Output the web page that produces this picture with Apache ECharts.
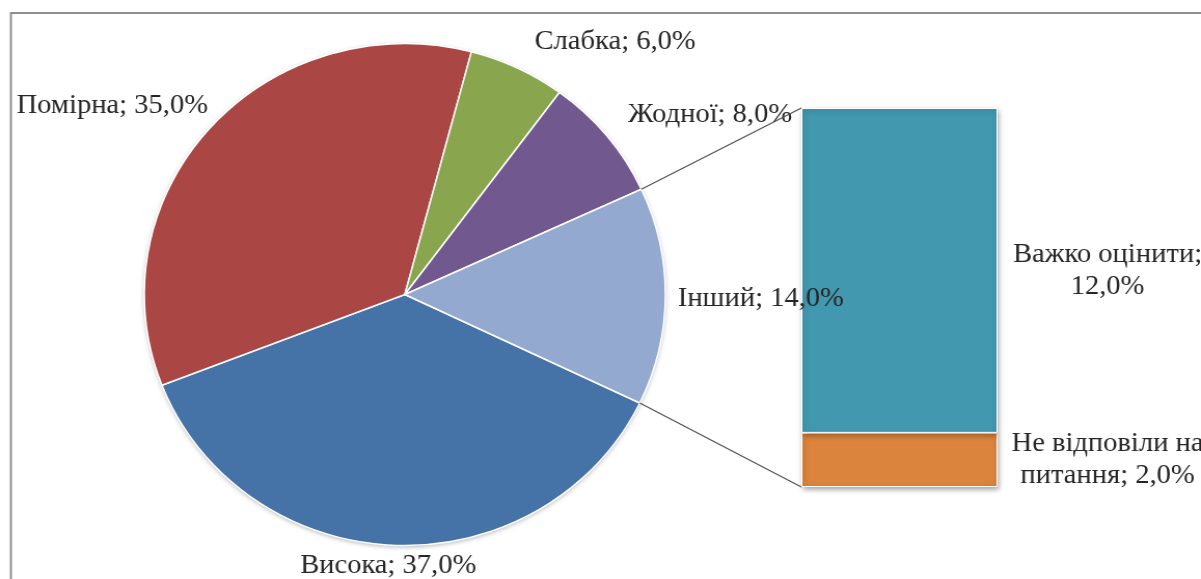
<!DOCTYPE html>
<html>
<head>
<meta charset="utf-8">
<script src="https://cdn.jsdelivr.net/npm/echarts@6/dist/echarts.min.js"></script>
<style>
  html, body { margin: 0; padding: 0; background: #fff; overflow: hidden; width: 1201px; height: 579px; }
  /* the chart is drawn slightly narrower and stretched horizontally, so the pie is a little wider than tall */
  #chart { width: 1157px; height: 579px; transform: scaleX(1.038); transform-origin: 0 0; }
</style>
</head>
<body>
<div id="chart"></div>
<script>
// main pie categories (share of respondents, %)
const mainNames = ['Висока', 'Помірна', 'Слабка', 'Жодної'];
const mainValues = [37, 35, 6, 8];

// the "other" slice, broken down in the side bar
const otherName = 'Інший';
const otherNames = ['Важко оцінити', 'Не відповіли на питання'];
const otherValues = [12, 2];

// colours
const mainColors = ['#4572A7', '#AA4643', '#89A54E', '#71588F'];
const otherSliceColor = '#93A9CF';
const otherColors = ['#4198AF', '#DB843D'];

// layout (chart coordinates)
const PIE_CX = 390, PIE_CY = 294.5, PIE_R = 251;
const START_ANGLE = -25.6;
const BAR = { left: 772, top: 108, width: 189, height: 379 };
const FONT = '"Liberation Serif", "Times New Roman", serif';
const FONT_SIZE = 27.5;
const TEXT_COLOR = '#262626';

// label anchors of the pie slices
const pieLabelPos = {
  'Помірна': { x: 16, y: 106, align: 'left' },
  'Слабка': { x: 515, y: 42, align: 'left' },
  'Жодної': { x: 605, y: 115, align: 'left' },
  'Інший': { x: 653, y: 299, align: 'left' },
  'Висока': { x: 374, y: 566, align: 'center' }
};

const fmt = v => v.toFixed(1).replace('.', ',') + '%';

// simple word wrap for the bar labels
function wrap(text, maxChars) {
  const words = text.split(' ');
  const lines = [];
  let cur = '';
  words.forEach(w => {
    const next = cur ? cur + ' ' + w : w;
    if (next.length > maxChars && cur) { lines.push(cur); cur = w; }
    else cur = next;
  });
  if (cur) lines.push(cur);
  return lines.join('\n');
}

const otherTotal = otherValues.reduce((a, b) => a + b, 0);
const pieData = mainNames.map((n, i) => ({ name: n, value: mainValues[i], itemStyle: { color: mainColors[i] } }));
pieData.push({ name: otherName, value: otherTotal, itemStyle: { color: otherSliceColor } });
const grandTotal = pieData.reduce((a, d) => a + d.value, 0);

const labelStyle = { fontFamily: FONT, fontSize: FONT_SIZE, color: TEXT_COLOR };

// stacked bar: first series sits at the bottom, so add the breakdown in reverse
const barSeries = [];
for (let i = otherNames.length - 1; i >= 0; i--) {
  barSeries.push({
    type: 'bar',
    name: otherNames[i],
    stack: 'other',
    barWidth: '100%',
    z: 2 + (otherNames.length - 1 - i),
    data: [otherValues[i]],
    itemStyle: {
      color: otherColors[i],
      borderColor: '#ffffff',
      borderWidth: 1,
      shadowBlur: 5,
      shadowColor: 'rgba(0,0,0,0.35)',
      shadowOffsetX: 1,
      shadowOffsetY: 2
    },
    label: Object.assign({
      show: true,
      position: 'right',
      lineHeight: 32,
      align: 'center',
      formatter: p => wrap(p.seriesName + '; ' + fmt(p.value), 15)
    }, labelStyle),
    labelLayout: params => ({
      x: params.rect.x + params.rect.width + 106,
      y: params.rect.y + params.rect.height / 2,
      align: 'center',
      verticalAlign: 'middle'
    })
  });
}

const chart = echarts.init(document.getElementById('chart'), null, { renderer: 'canvas' });

chart.setOption({
  animation: false,
  backgroundColor: '#ffffff',
  grid: { left: BAR.left, top: BAR.top, width: BAR.width, height: BAR.height, containLabel: false },
  xAxis: { type: 'category', data: [otherName], show: false },
  yAxis: { type: 'value', min: 0, max: otherTotal, show: false },
  series: barSeries.concat([{
    type: 'pie',
    z: 4,
    center: [PIE_CX, PIE_CY],
    radius: PIE_R,
    startAngle: START_ANGLE,
    clockwise: true,
    silent: true,
    data: pieData,
    itemStyle: { borderColor: '#ffffff', borderWidth: 1.5 },
    label: Object.assign({
      show: true,
      position: 'outside',
      overflow: 'none',
      edgeDistance: 0,
      bleedMargin: 0,
      formatter: p => p.name + '; ' + fmt(p.value)
    }, labelStyle),
    labelLine: { show: false },
    labelLayout: params => {
      const p = pieLabelPos[pieData[params.dataIndex].name];
      return { x: p.x, y: p.y, align: p.align, verticalAlign: 'middle', width: 400 };
    }
  }])
});

// connector lines from the "other" slice edges to the bar corners
const degToRad = Math.PI / 180;
const beforeOther = mainValues.reduce((a, b) => a + b, 0);
const aUpper = (START_ANGLE - beforeOther / grandTotal * 360) * degToRad;
const aLower = (START_ANGLE - 360) * degToRad;
const edge = a => [PIE_CX + PIE_R * Math.cos(a), PIE_CY - PIE_R * Math.sin(a)];
const pUp = edge(aUpper), pLow = edge(aLower);
const barTopY = chart.convertToPixel({ yAxisIndex: 0 }, otherTotal);
const barBotY = chart.convertToPixel({ yAxisIndex: 0 }, 0);

chart.setOption({
  graphic: [
    {
      type: 'rect', z: 0, silent: true,
      shape: { x: 10.5, y: 13, width: 1300, height: 700 },
      style: { fill: 'none', stroke: '#8f8f8f', lineWidth: 2 }
    },
    {
      type: 'circle', z: 1, silent: true,
      shape: { cx: PIE_CX, cy: PIE_CY, r: PIE_R - 0.5 },
      style: { fill: '#ffffff', shadowBlur: 5, shadowColor: 'rgba(0,0,0,0.35)', shadowOffsetY: 1.5 }
    },
    {
      type: 'line', z: 10, silent: true,
      shape: { x1: pUp[0], y1: pUp[1], x2: BAR.left, y2: barTopY },
      style: { stroke: '#505050', lineWidth: 1.2 }
    },
    {
      type: 'line', z: 10, silent: true,
      shape: { x1: pLow[0], y1: pLow[1], x2: BAR.left, y2: barBotY },
      style: { stroke: '#505050', lineWidth: 1.2 }
    }
  ]
});
</script>
</body>
</html>
